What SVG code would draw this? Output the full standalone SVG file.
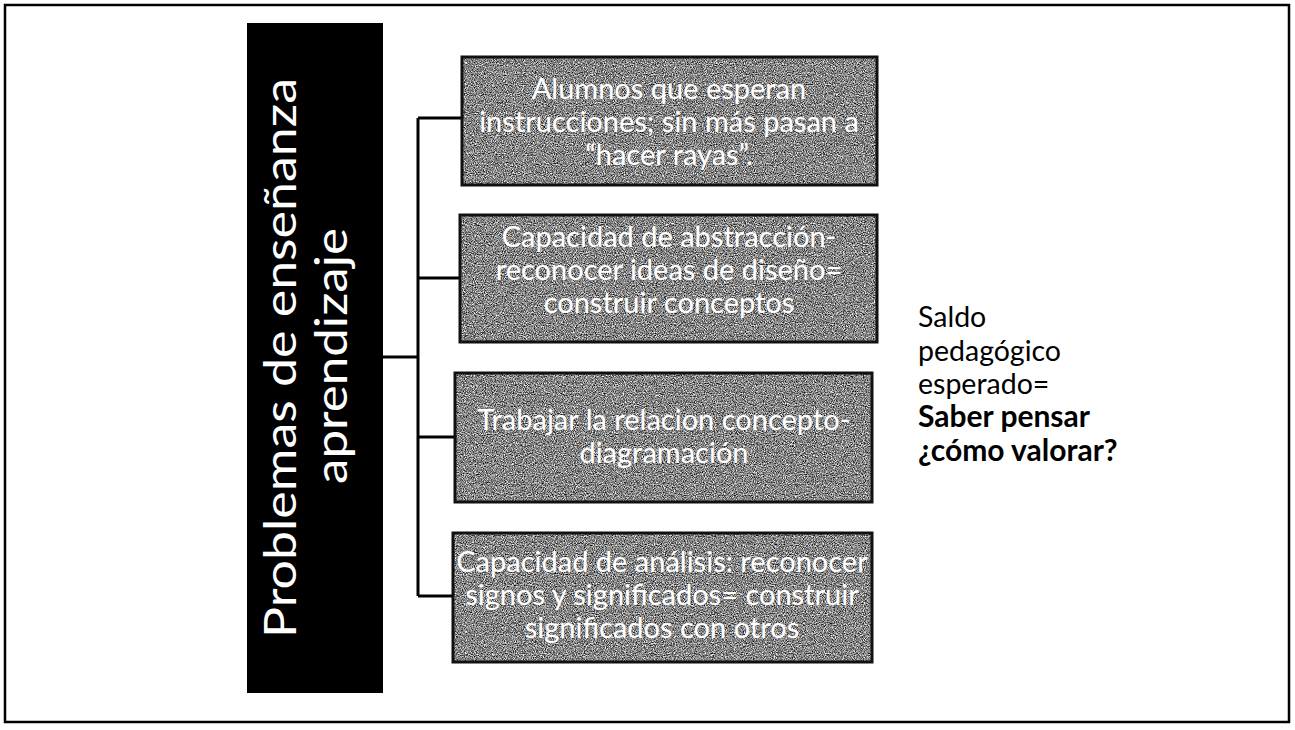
<svg xmlns="http://www.w3.org/2000/svg" width="1295" height="730" viewBox="0 0 1295 730">
<style>
.frame{fill:none;stroke:#000;stroke-width:2.5}
.conn{fill:none;stroke:#000;stroke-width:3}
.boxbg{fill:#8c8c8c}
.boxline{fill:none;stroke:#111;stroke-width:3}
.bt{font-family:Lato,"Liberation Sans",sans-serif;font-size:29px;fill:#fff;text-anchor:middle}
.title{font-family:Lato,"Liberation Sans",sans-serif;font-size:44px;fill:#fff;text-anchor:middle}
.side{font-family:Lato,"Liberation Sans",sans-serif;font-size:28.5px;fill:#000}
.b{font-weight:bold;font-size:30px}
</style>
<defs>
<filter id="grain" x="0" y="0" width="100%" height="100%" color-interpolation-filters="sRGB">
<feTurbulence type="fractalNoise" baseFrequency="0.9" numOctaves="2" seed="7" result="n"/>
<feColorMatrix in="n" type="matrix" values="1.6 0 0 0 -0.28  1.6 0 0 0 -0.28  1.6 0 0 0 -0.28  0 0 0 0 1" result="g"/>
<feComposite in="g" in2="SourceGraphic" operator="in"/>
</filter>
</defs>
<rect width="1295" height="730" fill="#fff"/>
<rect class="frame" x="5" y="5" width="1284" height="717"/>

<g id="connectors">
<path class="conn" d="M383 357 H418 M418 118 V596 M418 118 H462 M418 278 H460 M418 437 H455 M418 596 H453"/>
</g>

<g id="title">
<rect x="247" y="23" width="136" height="670" fill="#000"/>
<text class="title" transform="translate(296,358) rotate(-90)" textLength="560" lengthAdjust="spacingAndGlyphs">Problemas de enseñanza</text>
<text class="title" transform="translate(347,356) rotate(-90)" textLength="256" lengthAdjust="spacingAndGlyphs">aprendizaje</text>
</g>

<g id="box1">
<rect class="boxbg" x="462" y="57" width="415" height="128" filter="url(#grain)"/>
<rect class="boxline" x="462" y="57" width="415" height="128"/>
<text class="bt" x="669" y="99">Alumnos que esperan</text>
<text class="bt" x="669" y="132">instrucciones; sin más pasan a</text>
<text class="bt" x="669" y="165">“hacer rayas”.</text>
</g>

<g id="box2">
<rect class="boxbg" x="460" y="215" width="417" height="127" filter="url(#grain)"/>
<rect class="boxline" x="460" y="215" width="417" height="127"/>
<text class="bt" x="669" y="247">Capacidad de abstracción-</text>
<text class="bt" x="669" y="280">reconocer ideas de diseño=</text>
<text class="bt" x="669" y="313">construir conceptos</text>
</g>

<g id="box3">
<rect class="boxbg" x="455" y="373" width="417" height="129" filter="url(#grain)"/>
<rect class="boxline" x="455" y="373" width="417" height="129"/>
<text class="bt" x="664" y="430">Trabajar la relacion concepto-</text>
<text class="bt" x="664" y="463">diagramación</text>
</g>

<g id="box4">
<rect class="boxbg" x="453" y="533" width="419" height="129" filter="url(#grain)"/>
<rect class="boxline" x="453" y="533" width="419" height="129"/>
<text class="bt" x="662" y="572">Capacidad de análisis: reconocer</text>
<text class="bt" x="662" y="605">signos y significados= construir</text>
<text class="bt" x="662" y="638">significados con otros</text>
</g>

<g id="result">
<text class="side" x="918" y="327">Saldo</text>
<text class="side" x="918" y="361">pedagógico</text>
<text class="side" x="918" y="394">esperado=</text>
<text class="side b" x="918" y="427">Saber pensar</text>
<text class="side b" x="918" y="461">¿cómo valorar?</text>
</g>
</svg>
